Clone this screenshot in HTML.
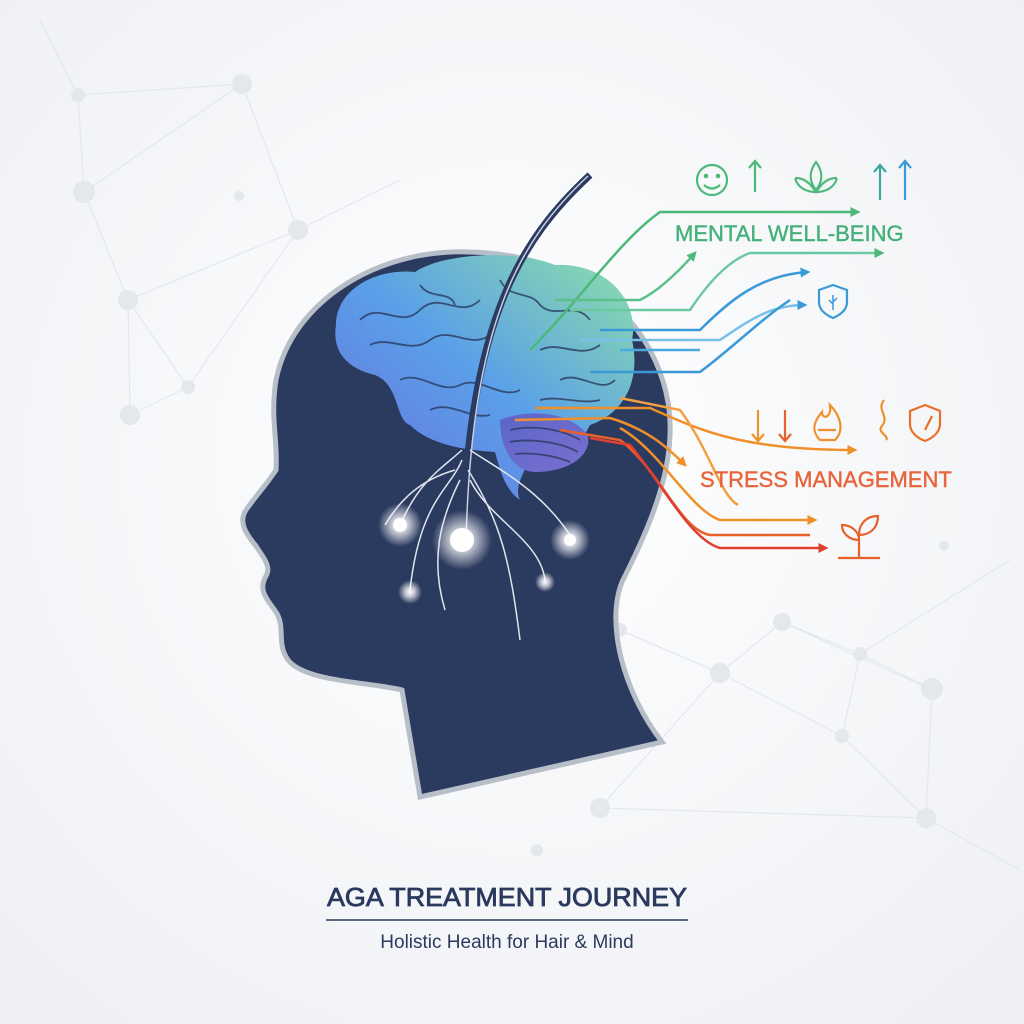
<!DOCTYPE html>
<html><head><meta charset="utf-8"><style>
html,body{margin:0;padding:0;background:#f7f8fa;}
svg{display:block}
</style></head><body>
<svg width="1024" height="1024" viewBox="0 0 1024 1024" xmlns="http://www.w3.org/2000/svg">
<defs>
<radialGradient id="bg" cx="50%" cy="45%" r="70%"><stop offset="0" stop-color="#ffffff"/><stop offset="1" stop-color="#eef0f4"/></radialGradient>
<linearGradient id="brain" x1="0" y1="1" x2="1" y2="0"><stop offset="0" stop-color="#6a6fe0"/><stop offset="0.5" stop-color="#5aa0e8"/><stop offset="1" stop-color="#8ee0a8"/></linearGradient>
<linearGradient id="cb" x1="0" y1="0" x2="1" y2="1"><stop offset="0" stop-color="#5a66c8"/><stop offset="1" stop-color="#7a70d0"/></linearGradient>
<radialGradient id="glow"><stop offset="0" stop-color="#ffffff"/><stop offset="0.4" stop-color="#ffffff" stop-opacity="0.7"/><stop offset="1" stop-color="#ffffff" stop-opacity="0"/></radialGradient>
<marker id="ag" markerWidth="4" markerHeight="4" refX="3" refY="2" orient="auto"><path d="M0,0 L4,2 L0,4 Z" fill="#4cb87a"/></marker>
<marker id="ab" markerWidth="4" markerHeight="4" refX="3" refY="2" orient="auto"><path d="M0,0 L4,2 L0,4 Z" fill="#3a9ad8"/></marker>
<marker id="ao" markerWidth="4" markerHeight="4" refX="3" refY="2" orient="auto"><path d="M0,0 L4,2 L0,4 Z" fill="#f0902a"/></marker>
<marker id="ar" markerWidth="4" markerHeight="4" refX="3" refY="2" orient="auto"><path d="M0,0 L4,2 L0,4 Z" fill="#e04030"/></marker>
</defs>
<rect width="1024" height="1024" fill="url(#bg)"/>
<g stroke="#e4e7ec" stroke-width="1.2" fill="none">
<path d="M78 95 L242 84 L298 230 L128 300 L84 192 L78 95 M242 84 L84 192 M128 300 L188 387 L298 230 M128 300 L130 415 M188 387 L130 415 M40 20 L78 95 M298 230 L400 180"/>
<path d="M620 630 L720 673 L782 622 L860 654 L932 689 L926 818 L842 736 L860 654 M720 673 L600 808 L926 818 M720 673 L842 736 M782 622 L930 689 M926 818 L1020 870 M860 654 L1010 560"/>
</g>
<g fill="#e4e7ec">
<circle cx="78" cy="95" r="7"/><circle cx="242" cy="84" r="10"/><circle cx="84" cy="192" r="11"/><circle cx="239" cy="196" r="5"/><circle cx="298" cy="230" r="10"/><circle cx="128" cy="300" r="10"/><circle cx="188" cy="387" r="7"/><circle cx="130" cy="415" r="10"/>
<circle cx="620" cy="630" r="7"/><circle cx="720" cy="673" r="10"/><circle cx="782" cy="622" r="9"/><circle cx="860" cy="654" r="7"/><circle cx="932" cy="689" r="11"/><circle cx="842" cy="736" r="7"/><circle cx="926" cy="818" r="10"/><circle cx="600" cy="808" r="10"/><circle cx="537" cy="850" r="6"/><circle cx="944" cy="546" r="5"/>
</g>
<path d="M420 797 L402 690 C370 682 305 682 288 660 C276 643 286 628 276 612 C266 598 258 590 266 576 C272 566 262 556 256 546 C246 534 238 522 246 510 C254 498 264 488 276 470 C278 440 270 418 276 380 C292 300 380 248 470 252 C572 254 652 312 668 402 C678 462 652 522 622 582 C606 622 622 690 662 742 Z" fill="#2b3a5f" stroke="#b8bec8" stroke-width="5"/>
<path d="M336 325 C336 290 375 268 415 272 C445 252 520 250 555 265 C605 262 640 300 632 340 C642 385 620 415 590 425 C580 445 560 465 530 460 C520 478 515 490 520 500 C505 490 500 470 495 452 C465 450 430 445 410 425 C395 420 400 385 375 375 C345 368 332 350 336 325 Z" fill="url(#brain)"/>
<path d="M500 420 C530 408 570 412 588 435 C592 458 565 472 535 472 C515 472 500 450 500 420 Z" fill="url(#cb)"/>
<g stroke="#2b3a5f" stroke-width="1.8" fill="none" opacity="0.8">
<path d="M360 320 C380 300 400 330 420 310 C440 290 460 320 480 300 M370 345 C390 335 410 355 430 340 C450 325 470 350 490 335 M420 285 C430 300 450 290 455 305 M500 280 C510 300 530 290 540 305 C555 320 575 300 590 320 M400 380 C420 370 440 395 460 385 C480 375 500 400 520 390 M540 350 C560 340 580 360 600 345 M560 380 C580 370 600 395 615 380 M430 410 C450 400 470 420 490 415 M540 400 C560 395 580 405 600 400"/>
<path d="M510 430 C530 425 560 428 580 440 M510 442 C530 438 560 442 578 452 M515 454 C535 452 555 456 570 462"/>
</g>
<path d="M590 175 C520 240 470 320 462 540" stroke="#2b3a5f" stroke-width="7" fill="none"/>
<path d="M588 176 C520 240 472 320 466 540" stroke="#c8d0e0" stroke-width="1.5" fill="none"/>
<g stroke="#dfe4ee" stroke-width="1.5" fill="none">
<path d="M462 450 C440 470 420 480 400 525 M462 460 C450 490 420 500 410 590 M470 450 C500 470 540 490 570 535 M468 470 C500 520 510 560 520 640 M460 480 C440 520 430 560 445 610 M470 480 C490 520 540 540 545 580 M455 470 C420 480 400 500 385 525"/>
</g>
<circle cx="462" cy="540" r="30" fill="url(#glow)"/><circle cx="462" cy="540" r="12" fill="#fff"/>
<circle cx="400" cy="525" r="22" fill="url(#glow)"/><circle cx="400" cy="525" r="7" fill="#fff"/>
<circle cx="570" cy="540" r="20" fill="url(#glow)"/><circle cx="570" cy="540" r="6" fill="#fff"/>
<circle cx="410" cy="592" r="12" fill="url(#glow)"/><circle cx="545" cy="582" r="10" fill="url(#glow)"/>
<g fill="none" stroke-width="2.5">
<path d="M530 350 C580 300 620 240 660 212 L858 212" stroke="#4cb87a" marker-end="url(#ag)"/>
<path d="M555 300 L640 300 C660 290 680 270 695 253" stroke="#5cc08a" marker-end="url(#ag)"/>
<path d="M570 310 L690 310 C710 280 730 260 750 253 L882 253" stroke="#6cc8a0" marker-end="url(#ag)"/>
<path d="M600 330 L700 330 C730 300 760 275 808 272" stroke="#3a9ad8" marker-end="url(#ab)"/>
<path d="M580 340 L720 340 C750 320 770 305 805 305" stroke="#78c0ea" marker-end="url(#ab)"/>
<path d="M590 372 L700 372 C730 350 760 320 790 300" stroke="#3a9ad8"/>
<path d="M620 350 L700 350" stroke="#4aaae0"/>
<path d="M535 408 L650 408 C700 430 740 450 855 450" stroke="#f0902a" marker-end="url(#ao)"/>
<path d="M515 420 L610 418 C650 430 670 450 685 465" stroke="#f0902a" marker-end="url(#ao)"/>
<path d="M620 398 L680 410 C710 450 720 495 738 505" stroke="#f5a040"/>
<path d="M620 428 C660 450 690 510 720 520 L815 520" stroke="#f0902a" marker-end="url(#ao)"/>
<path d="M560 430 L620 440 C660 470 680 530 710 535 L810 535" stroke="#e8602a"/>
<path d="M590 438 L630 445 C660 480 690 540 720 548 L826 548" stroke="#e04030" marker-end="url(#ar)"/>
</g>
<g fill="none" stroke="#4cb87a" stroke-width="2.2">
<circle cx="712" cy="180" r="15"/><circle cx="706" cy="176" r="1.2" fill="#4cb87a"/><circle cx="718" cy="176" r="1.2" fill="#4cb87a"/><path d="M704 185 Q712 192 720 185"/>
<path d="M755 192 L755 162 M749 168 L755 161 L761 168"/>
<path d="M816 192 C800 192 794 180 796 178 C806 178 812 186 816 192 C820 186 826 178 836 178 C838 180 832 192 816 192 Z M816 190 C808 180 810 170 816 162 C822 170 824 180 816 190"/>
<path d="M880 200 L880 166 M874 172 L880 165 L886 172" stroke="#3aa8a0"/>
<path d="M905 200 L905 162 M899 168 L905 161 L911 168" stroke="#3a9ad8"/>
<path d="M833 285 L847 290 L847 302 C847 310 840 315 833 318 C826 315 819 310 819 302 L819 290 Z" stroke="#3a9ad8"/>
<path d="M833 295 L833 310 M829 300 L833 304 M837 298 L833 302" stroke="#3a9ad8" stroke-width="1.5"/>
</g>
<g fill="none" stroke-width="2.2">
<path d="M758 440 L758 410 M752 434 L758 441 L764 434" stroke="#f0902a"/>
<path d="M785 440 L785 410 M779 434 L785 441 L791 434" stroke="#e8602a"/>
<path d="M820 440 C810 430 815 420 822 412 C822 420 832 418 830 405 C840 415 845 430 835 440 Z M818 430 L836 430" stroke="#f0902a"/>
<path d="M884 400 C876 410 890 416 882 426 C876 432 890 436 886 440" stroke="#f0902a"/>
<path d="M925 405 L940 411 L940 424 C940 432 933 438 925 441 C917 438 910 432 910 424 L910 411 Z M925 430 L932 416" stroke="#e8702a"/>
<path d="M838 558 L880 558 M859 558 L859 535 M859 540 C850 540 842 534 842 525 C852 525 859 532 859 540 M859 535 C859 524 866 516 878 516 C878 528 870 535 859 535" stroke="#e8602a"/>
</g>
<text x="675" y="241" font-family="Liberation Sans, sans-serif" font-size="22" fill="#46b07a" stroke="#46b07a" stroke-width="0.4">MENTAL WELL-BEING</text>
<text x="700" y="487" font-family="Liberation Sans, sans-serif" font-size="22" fill="#e8643a" stroke="#e8643a" stroke-width="0.4">STRESS MANAGEMENT</text>
<text x="507" y="906" text-anchor="middle" font-family="Liberation Sans, sans-serif" font-size="26" fill="#2b3a5f" stroke="#2b3a5f" stroke-width="0.8" textLength="360" lengthAdjust="spacingAndGlyphs">AGA TREATMENT JOURNEY</text>
<line x1="326" y1="920" x2="688" y2="920" stroke="#2b3a5f" stroke-width="1.5"/>
<text x="507" y="948" text-anchor="middle" font-family="Liberation Sans, sans-serif" font-size="19" fill="#2b3a5f">Holistic Health for Hair &amp; Mind</text>
</svg>
</body></html>
